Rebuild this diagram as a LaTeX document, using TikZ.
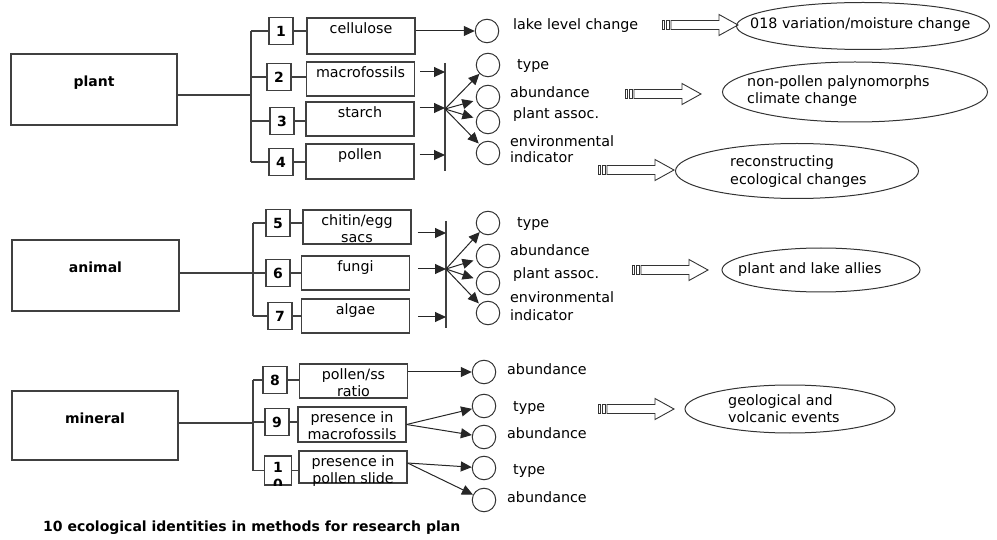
\documentclass[tikz,border=0pt]{standalone}
\usepackage{fontspec}
\setmainfont{DejaVu Sans}
\usetikzlibrary{arrows.meta,shapes.geometric}
\begin{document}
\begin{tikzpicture}[x=1pt,y=-1pt,
  font=\fontsize{14.3}{17}\selectfont,
  ln/.style={draw=black!75, line width=1.1pt},
  catbox/.style={draw=black!75, line width=1.1pt, inner sep=0pt},
  cattxt/.style={anchor=base, inner sep=0pt, font=\fontsize{14}{17}\selectfont\bfseries},
  numbox/.style={draw=black!75, line width=1.1pt, minimum width=24pt, minimum height=27pt, inner sep=0pt, font=\fontsize{14}{17}\selectfont\bfseries},
  cbox/.style={draw=black!75, line width=1.1pt, minimum width=108pt, minimum height=34pt, inner sep=0pt},
  btxt/.style={anchor=north, inner sep=0pt, align=center},
  circ/.style={circle, draw=black!80, line width=1pt, minimum size=23.5pt, inner sep=0pt},
  lbl/.style={anchor=base west, inner sep=0pt},
  arr/.style={draw=black!85, line width=1pt, -{Triangle[length=11pt,width=10pt]}},
  oval/.style={ellipse, draw=black!80, line width=1pt, inner sep=0pt},
  striped/.pic={
    \draw[black!80, line width=0.9pt] (0,-4.5) rectangle (2.5,4.5);
    \draw[black!80, line width=0.9pt] (4.5,-4.5) rectangle (7,4.5);
    \draw[black!80, line width=0.9pt] (9,-4.5) -- (57,-4.5) -- (57,-10.5) -- (76,0) -- (57,10.5) -- (57,4.5) -- (9,4.5) -- cycle;
  }]
\useasboundingbox (0,0) rectangle (997,540);

% ---------------- category boxes
\node[catbox, minimum width=166pt, minimum height=71pt] (plant) at (94,89.5) {};
\node[cattxt] (plantT) at (94,87) {plant};
\node[catbox, minimum width=167pt, minimum height=71pt] (animal) at (95.5,275.5) {};
\node[cattxt] (animalT) at (95.5,273) {animal};
\node[catbox, minimum width=166pt, minimum height=69pt] (mineral) at (95,425.5) {};
\node[cattxt] (mineralT) at (95,423) {mineral};

% ---------------- plant group
\coordinate (pb) at (251,95);
\node[numbox] (n1) at (281,31) {1};
\node[numbox] (n2) at (279,77) {2};
\node[numbox] (n3) at (282,121) {3};
\node[numbox] (n4) at (281,162) {4};
\draw[ln] (plant.east |- pb) -- (pb);
\draw[ln] (n1.west -| pb) -- (n4.west -| pb);
\foreach \n in {n1,n2,n3,n4} \draw[ln] (\n.west -| pb) -- (\n.west);

\node[cbox, minimum height=36pt] (c1) at (361,36) {};
\node[cbox] (c2) at (360.5,79) {};
\node[cbox] (c3) at (360,119) {};
\node[cbox, minimum height=35pt] (c4) at (360,161.5) {};
\node[btxt] (c1T) at ([yshift=-4.5pt]c1.north) {cellulose};
\node[btxt] (c2T) at ([yshift=-4.5pt]c2.north) {macrofossils};
\node[btxt] (c3T) at ([yshift=-4.5pt]c3.north) {starch};
\node[btxt] (c4T) at ([yshift=-4.5pt]c4.north) {pollen};
\draw[ln] (n1.east) -- (n1.east -| c1.west);
\draw[ln] (n2.east) -- (n2.east -| c2.west);
\draw[ln] (n3.east) -- (n3.east -| c3.west);
\draw[ln] (n4.east) -- (n4.east -| c4.west);

\node[circ] (lake) at (487,31) {};
\draw[arr] (c1.east |- lake) -- (lake);
\node[lbl] (lakeT) at (513,30) {lake level change};

\coordinate (pbarT) at (445,63);
\coordinate (pbarB) at (445,171);
\draw[ln] (pbarT) -- (pbarB);
\coordinate (p2) at (445,72);
\coordinate (p3) at (445,108);
\coordinate (p4) at (445,155);
\coordinate (fp) at (445,109);
\draw[arr] ([xshift=5pt]c2.east |- p2) -- (p2);
\draw[arr] ([xshift=5pt]c3.east |- p3) -- (p3);
\draw[arr] ([xshift=5pt]c4.east |- p4) -- (p4);

\node[circ] (pt) at (488,65) {};
\node[circ] (pa) at (488,97) {};
\node[circ] (pp) at (488,122) {};
\node[circ] (pe) at (488,153) {};
\draw[arr] (fp) -- (pt);
\draw[arr, shorten >=3pt] (fp) -- (pa);
\draw[arr, shorten >=3pt] (fp) -- (pp);
\draw[arr, shorten >=1pt] (fp) -- (pe);
\node[lbl] (ptT) at (517,70) {type};
\node[lbl] (paT) at (510,98) {abundance};
\node[lbl] (ppT) at (513,119) {plant assoc.};
\node[lbl] (peT1) at (510,147) {environmental};
\node[lbl] (peT2) at (510,163) {indicator};

% ---------------- animal group
\coordinate (ab) at (253,273);
\node[numbox] (n5) at (278,223) {5};
\node[numbox] (n6) at (278,273) {6};
\node[numbox] (n7) at (280,316) {7};
\draw[ln] (animal.east |- ab) -- (ab);
\draw[ln] (n5.west -| ab) -- (n7.west -| ab);
\foreach \n in {n5,n6,n7} \draw[ln] (\n.west -| ab) -- (\n.west);

\node[cbox] (c5) at (357,227) {};
\node[cbox] (c6) at (355.5,273) {};
\node[cbox] (c7) at (355.5,316) {};
\node[btxt] (c5T) at ([yshift=-4.5pt]c5.north) {chitin/egg\\sacs};
\node[btxt] (c6T) at ([yshift=-4.5pt]c6.north) {fungi};
\node[btxt] (c7T) at ([yshift=-4.5pt]c7.north) {algae};
\draw[ln] (n5.east) -- (n5.east -| c5.west);
\draw[ln] (n6.east) -- (n6.east -| c6.west);
\draw[ln] (n7.east) -- (n7.east -| c7.west);

\coordinate (abarT) at (446,221);
\coordinate (abarB) at (446,328);
\draw[ln] (abarT) -- (abarB);
\coordinate (a5) at (446,233);
\coordinate (a6) at (446,269);
\coordinate (a7) at (446,317);
\coordinate (fa) at (446,269);
\draw[arr] ([xshift=6pt]c5.east |- a5) -- (a5);
\draw[arr] ([xshift=8pt]c6.east |- a6) -- (a6);
\draw[arr] ([xshift=8pt]c7.east |- a7) -- (a7);

\node[circ] (at) at (488,223) {};
\node[circ] (aa) at (488,256) {};
\node[circ] (ap) at (488,283) {};
\node[circ] (ae) at (488,313) {};
\draw[arr] (fa) -- (at);
\draw[arr, shorten >=3pt] (fa) -- (aa);
\draw[arr, shorten >=3pt] (fa) -- (ap);
\draw[arr, shorten >=1pt] (fa) -- (ae);
\node[lbl] (atT) at (517,228) {type};
\node[lbl] (aaT) at (510,256) {abundance};
\node[lbl] (apT) at (513,279) {plant assoc.};
\node[lbl] (aeT1) at (510,303) {environmental};
\node[lbl] (aeT2) at (510,321) {indicator};

% ---------------- mineral group
\coordinate (mb) at (253,423);
\node[numbox] (n8) at (275,380) {8};
\node[numbox] (n9) at (277,422) {9};
\node[numbox, minimum width=27pt, minimum height=29pt] (n10) at (278,470.5) {};
\begin{scope}
  \clip (n10.south west) rectangle (n10.north east);
  \node[btxt, font=\fontsize{14}{17}\selectfont\bfseries] (n10T) at ([yshift=-7pt]n10.north) {1\\0};
\end{scope}
\draw[ln] (mineral.east |- mb) -- (mb);
\draw[ln] (n8.west -| mb) -- (n10.west -| mb);
\foreach \n in {n8,n9,n10} \draw[ln] (\n.west -| mb) -- (\n.west);

\node[cbox] (c8) at (353.5,381) {};
\node[cbox, minimum height=35pt] (c9) at (352,424.5) {};
\node[cbox, minimum height=32pt] (c10) at (353,467) {};
\node[btxt] (c8T) at ([yshift=-4.5pt]c8.north) {pollen/ss\\ratio};
\node[btxt] (c9T) at ([yshift=-4.5pt]c9.north) {presence in\\macrofossils};
\node[btxt] (c10T) at ([yshift=-4.5pt]c10.north) {presence in\\pollen slide};
\draw[ln] (n8.east) -- (n8.east -| c8.west);
\draw[ln] (n9.east) -- (n9.east -| c9.west);
\draw[ln] (n10.east) -- (n10.east -| c10.west);

\node[circ] (m1) at (484,372) {};
\node[circ] (m2) at (484,406) {};
\node[circ] (m3) at (484,437) {};
\node[circ] (m4) at (484,468) {};
\node[circ] (m5) at (484,500) {};
\draw[arr] (c8.east |- m1) -- (m1);
\draw[arr] (c9.east) -- (m2);
\draw[arr] (c9.east) -- (m3);
\draw[arr] ([yshift=4pt]c10.east) -- (m4);
\draw[arr] ([yshift=4pt]c10.east) -- (m5);
\node[lbl] (m1T) at (507,374) {abundance};
\node[lbl] (m2T) at (513,411) {type};
\node[lbl] (m3T) at (507,438) {abundance};
\node[lbl] (m4T) at (513,474) {type};
\node[lbl] (m5T) at (507,502) {abundance};

% ---------------- result ovals and striped arrows
\pic (s1) at (662,25) {striped};
\node[oval, minimum width=253pt, minimum height=47pt] (e1) at (863,26) {};
\node[lbl] (e1T) at (750,29) {018 variation/moisture change};

\pic (s2) at (625,94) {striped};
\node[oval, minimum width=265pt, minimum height=60pt] (e2) at (855,92) {};
\node[lbl] (e2T1) at (747,87) {non-pollen palynomorphs};
\node[lbl] (e2T2) at (747,104) {climate change};

\pic (s3) at (598,170) {striped};
\node[oval, minimum width=243pt, minimum height=55pt] (e3) at (797,171) {};
\node[lbl] (e3T1) at (730,167) {reconstructing};
\node[lbl] (e3T2) at (730,185) {ecological changes};

\pic (s4) at (632,270) {striped};
\node[oval, minimum width=198pt, minimum height=44pt] (e4) at (821,270) {};
\node[lbl] (e4T) at (738,274) {plant and lake allies};

\pic (s5) at (598,409) {striped};
\node[oval, minimum width=210pt, minimum height=48pt] (e5) at (790,409) {};
\node[lbl] (e5T1) at (728,406) {geological and};
\node[lbl] (e5T2) at (728,422) {volcanic events};

% ---------------- caption
\node[lbl, font=\fontsize{14}{17}\selectfont\bfseries] (cap) at (43,531) {10 ecological identities in methods for research plan};
\end{tikzpicture}
\end{document}
